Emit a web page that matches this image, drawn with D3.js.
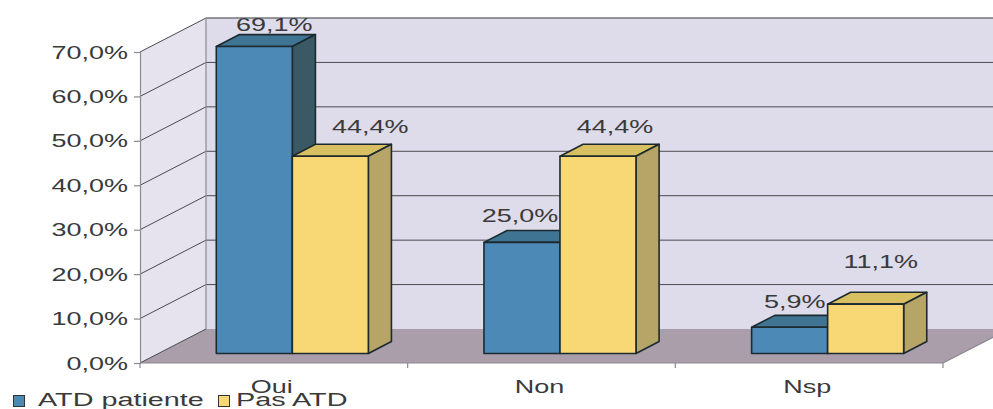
<!DOCTYPE html>
<html><head><meta charset="utf-8">
<script src="https://cdn.jsdelivr.net/npm/d3@7"></script>
<style>
html,body{margin:0;padding:0;background:#fff;}
svg{display:block;}
text{font-family:"Liberation Sans",Arial,sans-serif;fill:#3a3a3a;}
</style></head>
<body><svg id="c" width="993" height="409"></svg>
<script>
// ---- data ----
const categories = ["Oui", "Non", "Nsp"];
const seriesNames = ["ATD patiente", "Pas ATD"];
const atdPatiente = [69.1, 25.0, 5.9];
const pasATD = [44.4, 44.4, 11.1];
const valueLabels = [["69,1%", "25,0%", "5,9%"], ["44,4%", "44,4%", "11,1%"]];
const yTicks = [0, 10, 20, 30, 40, 50, 60, 70];
const yTickLabels = ["0,0%", "10,0%", "20,0%", "30,0%", "40,0%", "50,0%", "60,0%", "70,0%"];

// ---- layout (not data) ----
const labelNudge = [[[20, -15.5], [-2, -20.5], [5, -19]], [[40, -23], [17, -23], [15, -36]]];
const colors = [
  {front: "#4d89b7", top: "#3f7492", side: "#3a5964"},
  {front: "#f8d874", top: "#d8c062", side: "#b7a467"}
];

const svg = d3.select("#c");
const X0 = 140, X1 = 943, DX = 66, DY = 34;
const y = d3.scaleLinear().domain([0, 70]).range([363, 52]);
const x = d3.scaleBand().domain(categories).range([X0, X1]).padding(0);
const bw = x.bandwidth();
const barW = bw * 0.284;
const xs = d3.scaleBand().domain(seriesNames).range([bw / 2 - barW, bw / 2 + barW]);
const f1 = 0.28, f2 = 0.63;

function txt(g, str, tx, ty, anchor, size, sx) {
  return g.append("text")
    .attr("transform", `translate(${tx},${ty}) scale(${sx || 1.5},1)`)
    .attr("text-anchor", anchor)
    .attr("font-size", size || 18)
    .text(str);
}

const yBack = v => y(v) - DY;
const poly = pts => pts.map(p => p.join(",")).join(" ");

// walls and floor
svg.append("polygon").attr("points", poly([[X0 + DX, yBack(70)], [X1 + DX, yBack(70)], [X1 + DX, yBack(0)], [X0 + DX, yBack(0)]]))
  .attr("fill", "#dedcea");
svg.append("polygon").attr("points", poly([[X0, y(70)], [X0 + DX, yBack(70)], [X0 + DX, yBack(0)], [X0, y(0)]]))
  .attr("fill", "#e6e3ee");
svg.append("polygon").attr("points", poly([[X0, y(0)], [X1, y(0)], [X1 + DX, yBack(0)], [X0 + DX, yBack(0)]]))
  .attr("fill", "#a99ea9");

// gridlines
const grid = svg.append("g").attr("stroke", "#4a4a50").attr("stroke-width", 1).attr("fill", "none");
yTicks.forEach(t => {
  if (t > 0) grid.append("line").attr("x1", X0 + DX).attr("x2", X1 + DX).attr("y1", yBack(t)).attr("y2", yBack(t));
  grid.append("line").attr("x1", X0).attr("y1", y(t)).attr("x2", X0 + DX).attr("y2", yBack(t));
});
const edges = svg.append("g").attr("stroke", "#8a8a92").attr("stroke-width", 1.2).attr("fill", "none");
edges.append("line").attr("x1", X0 + DX).attr("x2", X0 + DX).attr("y1", yBack(70)).attr("y2", yBack(0));
edges.append("line").attr("x1", X0 + DX).attr("x2", X1 + DX).attr("y1", yBack(70)).attr("y2", yBack(70));
edges.append("line").attr("x1", X1).attr("y1", y(0)).attr("x2", X1 + DX).attr("y2", yBack(0));
edges.append("line").attr("x1", X0).attr("x2", X1).attr("y1", y(0)).attr("y2", y(0));

// y axis
const yAxis = svg.append("g").attr("transform", `translate(${X0},0)`).call(d3.axisLeft(y).tickValues(yTicks).tickSize(6).tickFormat(""));
yAxis.selectAll("path,line").attr("stroke", "#8a8a92").attr("stroke-width", 1.2);
yTicks.forEach((t, i) => txt(svg, yTickLabels[i], 128, y(t) + 6.5, "end"));

// category ticks
const catTicks = categories.map(c => x(c)).concat([X1]);
svg.append("g").selectAll("line").data(catTicks).join("line")
  .attr("x1", d => d).attr("x2", d => d).attr("y1", y(0)).attr("y2", y(0) + 5)
  .attr("stroke", "#8a8a92").attr("stroke-width", 1.2);

// bars
const seriesVals = [atdPatiente, pasATD];
const bars = svg.append("g").attr("stroke", "#1c2a30").attr("stroke-width", 1.6).attr("stroke-linejoin", "round");
const labelG = svg.append("g");
categories.forEach((c, ci) => {
  seriesNames.forEach((s, si) => {
    const v = seriesVals[si][ci];
    const xl = x(c) + xs(s) + f1 * DX, xr = xl + barW;
    const yb = y(0) - f1 * DY, yt = y(v) - f1 * DY;
    const ddx = (f2 - f1) * DX, ddy = (f2 - f1) * DY;
    const col = colors[si];
    bars.append("polygon").attr("points", poly([[xl, yt], [xl + ddx, yt - ddy], [xr + ddx, yt - ddy], [xr, yt]])).attr("fill", col.top);
    bars.append("polygon").attr("points", poly([[xr, yt], [xr + ddx, yt - ddy], [xr + ddx, yb - ddy], [xr, yb]])).attr("fill", col.side);
    bars.append("rect").attr("x", xl).attr("y", yt).attr("width", barW).attr("height", yb - yt).attr("fill", col.front);
    const n = labelNudge[si][ci];
    txt(labelG, valueLabels[si][ci], xl + barW / 2 + n[0], yt + n[1], "middle");
  });
});

// category labels
categories.forEach(c => txt(svg, c, x(c) + bw / 2 - 2, 393, "middle"));

// legend
const leg = svg.append("g");
leg.append("rect").attr("x", 13.5).attr("y", 395.5).attr("width", 11).attr("height", 11).attr("fill", colors[0].front).attr("stroke", "#333").attr("stroke-width", 1);
txt(leg, seriesNames[0], 38, 406, "start", 18, 1.6);
leg.append("rect").attr("x", 218.5).attr("y", 395.5).attr("width", 11).attr("height", 11).attr("fill", colors[1].front).attr("stroke", "#333").attr("stroke-width", 1);
txt(leg, seriesNames[1], 236, 406, "start", 18, 1.6);
</script></body></html>
